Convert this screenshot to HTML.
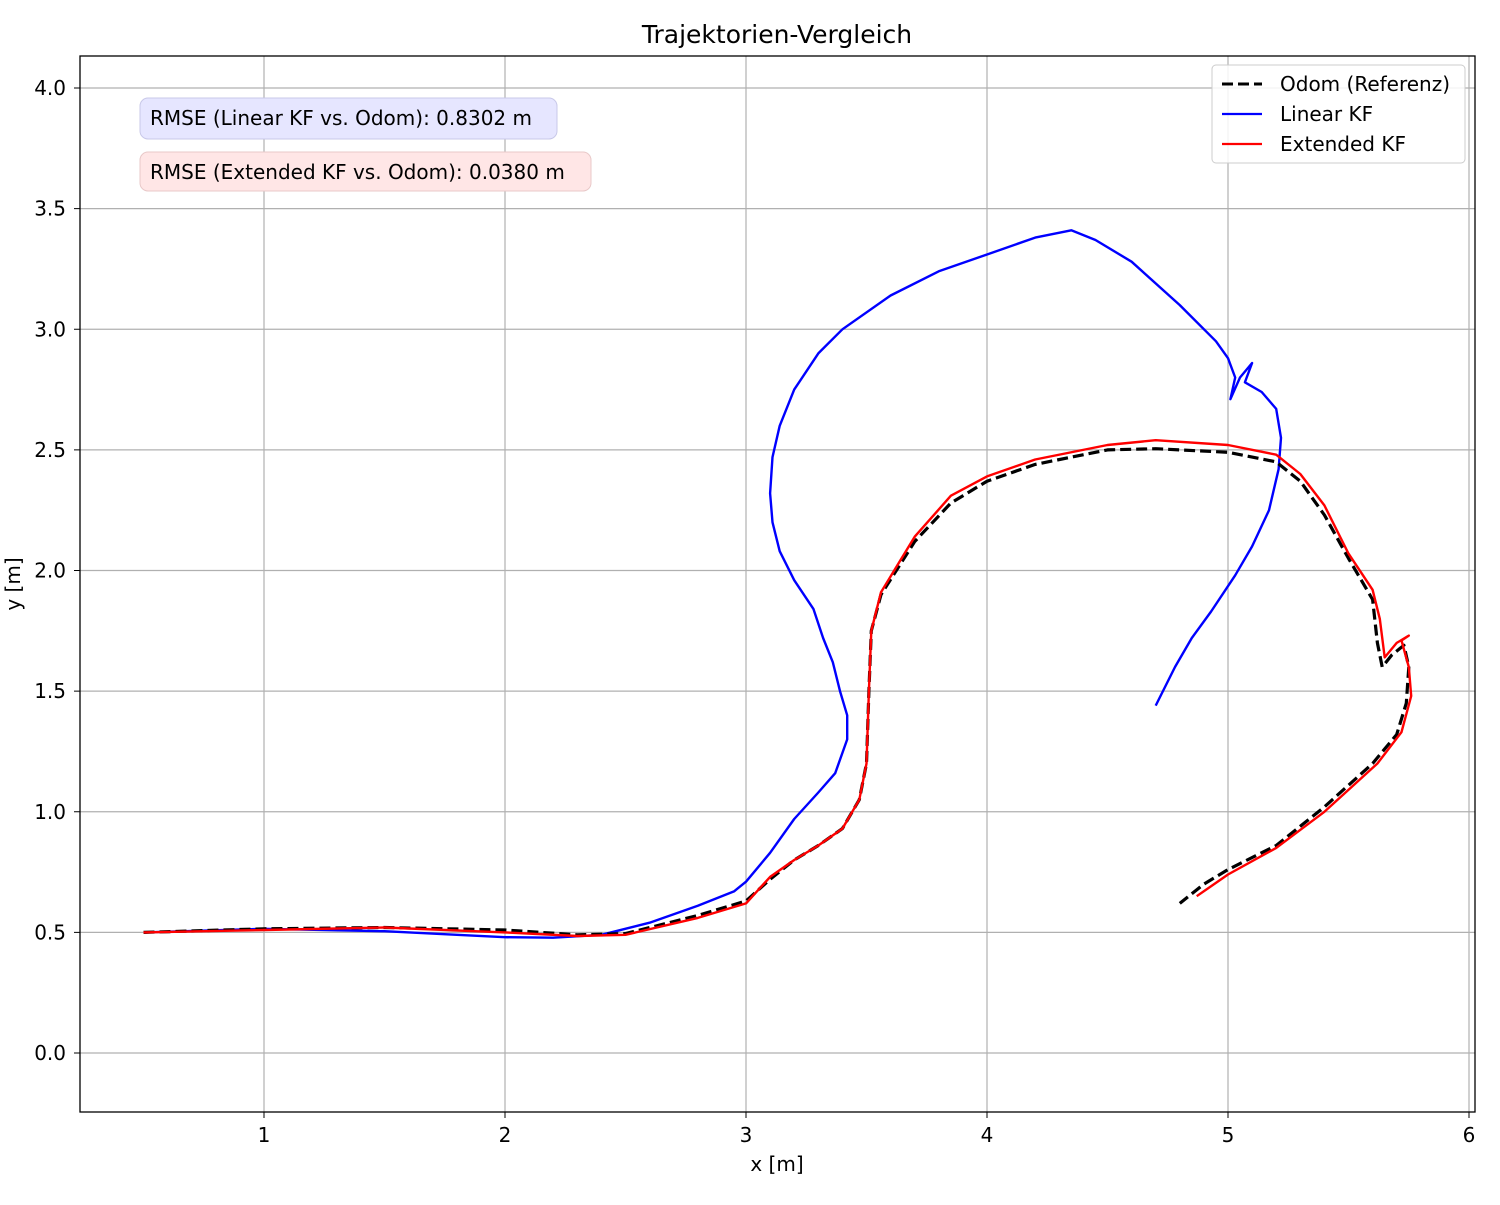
<!DOCTYPE html>
<html><head><meta charset="utf-8"><style>
body{margin:0;background:#fff;}
svg{font-family:"DejaVu Sans","Liberation Sans",sans-serif;}
</style></head><body>
<svg id="chart" width="1500" height="1200" xmlns="http://www.w3.org/2000/svg">
<text x="777" y="43" font-size="25" text-anchor="middle">Trajektorien-Vergleich</text>
<g id="grid"></g>
<g id="series"></g>
<rect x="80" y="56" width="1395" height="1056" fill="none" stroke="#000" stroke-width="1.3"/>
<g id="ticks"></g>
<text x="777" y="1171" font-size="20" text-anchor="middle">x [m]</text>
<text x="20" y="584" font-size="20" text-anchor="middle" transform="rotate(-90 20 584)">y [m]</text>
<g>
<rect x="140" y="98" width="417" height="41" rx="8" fill="#e6e6ff" stroke="#c8c8e8"/>
<text x="150" y="125" font-size="20">RMSE (Linear KF vs. Odom): 0.8302 m</text></g>
<g>
<rect x="140" y="152" width="451" height="39" rx="8" fill="#ffe6e6" stroke="#e8c8c8"/>
<text x="150" y="179" font-size="20">RMSE (Extended KF vs. Odom): 0.0380 m</text></g>
<g>
<rect x="1212" y="65" width="253" height="98" rx="4" fill="#fff" fill-opacity="0.85" stroke="#ccc"/>
<g><line x1="1222" y1="84" x2="1262" y2="84" stroke="#000" stroke-width="3" stroke-dasharray="11,5"/><text x="1280" y="91" font-size="20">Odom (Referenz)</text></g>
<g><line x1="1222" y1="114" x2="1262" y2="114" stroke="#00f" stroke-width="2.2"/><text x="1280" y="121" font-size="20">Linear KF</text></g>
<g><line x1="1222" y1="144" x2="1262" y2="144" stroke="#f00" stroke-width="2.2"/><text x="1280" y="151" font-size="20">Extended KF</text></g>
</g>
</svg>
<script>
const xTicks=[1,2,3,4,5,6];
const yTicks=[0.0,0.5,1.0,1.5,2.0,2.5,3.0,3.5,4.0];
const odomX=[0.5,1,1.5,2,2.3,2.5,2.8,3,3.1,3.2,3.3,3.4,3.47,3.5,3.51,3.52,3.56,3.7,3.85,4,4.2,4.5,4.7,5,5.2,5.3,5.4,5.5,5.6,5.62,5.64,5.68,5.73,5.75,5.74,5.7,5.6,5.4,5.2,5.0,4.9,4.8];
const odomY=[0.5,0.515,0.52,0.51,0.49,0.495,0.57,0.63,0.72,0.8,0.86,0.93,1.05,1.2,1.5,1.75,1.9,2.12,2.28,2.37,2.44,2.5,2.505,2.49,2.45,2.37,2.23,2.05,1.88,1.7,1.6,1.65,1.69,1.6,1.45,1.32,1.2,1.02,0.86,0.76,0.7,0.62];
const ekfX=[0.5,1,1.5,2,2.3,2.5,2.8,3,3.1,3.2,3.3,3.4,3.47,3.5,3.51,3.52,3.56,3.7,3.85,4,4.2,4.5,4.7,5,5.2,5.3,5.4,5.5,5.6,5.63,5.65,5.7,5.75,5.72,5.75,5.76,5.72,5.62,5.4,5.2,5.0,4.87];
const ekfY=[0.5,0.51,0.52,0.5,0.485,0.49,0.56,0.62,0.73,0.8,0.86,0.93,1.05,1.2,1.5,1.75,1.91,2.14,2.31,2.39,2.46,2.52,2.54,2.52,2.48,2.4,2.27,2.07,1.92,1.8,1.64,1.7,1.73,1.71,1.6,1.48,1.33,1.2,1.0,0.85,0.74,0.65];
const linX=[0.5,1,1.5,1.8,2,2.2,2.4,2.6,2.8,2.95,3,3.1,3.2,3.3,3.37,3.42,3.42,3.39,3.36,3.32,3.28,3.2,3.14,3.11,3.1,3.11,3.14,3.2,3.3,3.4,3.6,3.8,4,4.2,4.35,4.45,4.6,4.8,4.95,5.0,5.03,5.01,5.05,5.1,5.07,5.14,5.2,5.22,5.21,5.17,5.1,5.03,4.93,4.85,4.78,4.7];
const linY=[0.5,0.515,0.505,0.49,0.48,0.478,0.49,0.54,0.61,0.67,0.71,0.83,0.97,1.08,1.16,1.3,1.4,1.5,1.62,1.72,1.84,1.96,2.08,2.2,2.32,2.47,2.6,2.75,2.9,3.0,3.14,3.24,3.31,3.38,3.41,3.37,3.28,3.1,2.95,2.88,2.8,2.71,2.8,2.86,2.78,2.74,2.67,2.55,2.42,2.25,2.1,1.98,1.83,1.72,1.6,1.44];
const sx=v=>23+241*v, sy=v=>1053-241.25*v;
const NS="http://www.w3.org/2000/svg";
const grid=document.getElementById('grid'),ticks=document.getElementById('ticks'),ser=document.getElementById('series');
function mk(t,a,p){const e=document.createElementNS(NS,t);for(const k in a)e.setAttribute(k,a[k]);p.appendChild(e);return e;}
xTicks.forEach(v=>{const X=sx(v);
const g=mk('line',{x1:X,x2:X,y1:56,y2:1112,stroke:'#b0b0b0','stroke-width':1.2},grid);


mk('line',{x1:X,x2:X,y1:1112,y2:1118,stroke:'#000'},ticks);
const t=mk('text',{x:X,y:1142,'font-size':20,'text-anchor':'middle'},ticks);t.textContent=v;

});
yTicks.forEach(v=>{const Y=sy(v);
const g=mk('line',{x1:80,x2:1475,y1:Y,y2:Y,stroke:'#b0b0b0','stroke-width':1.2},grid);


mk('line',{x1:74,x2:80,y1:Y,y2:Y,stroke:'#000'},ticks);
const t=mk('text',{x:66,y:Y+7,'font-size':20,'text-anchor':'end'},ticks);t.textContent=v.toFixed(1);

});
function path(xs,ys){return xs.map((x,i)=>(i?'L':'M')+sx(x).toFixed(1)+','+sy(ys[i]).toFixed(1)).join('');}
const pl=mk('path',{d:path(linX,linY),fill:'none',stroke:'#00f','stroke-width':2.4,'stroke-linejoin':'round'},ser);


const po=mk('path',{d:path(odomX,odomY),fill:'none',stroke:'#000','stroke-width':3.2,'stroke-dasharray':'11,5','stroke-linejoin':'round'},ser);


const pe=mk('path',{d:path(ekfX,ekfY),fill:'none',stroke:'#f00','stroke-width':2.4,'stroke-linejoin':'round'},ser);


</script>
</body></html>
